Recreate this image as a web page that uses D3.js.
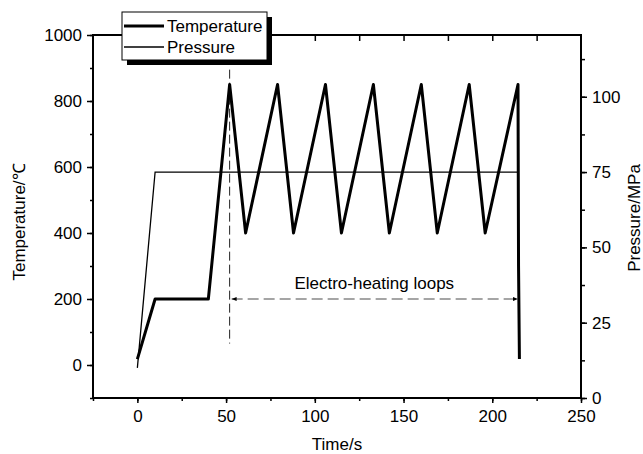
<!DOCTYPE html>
<html>
<head>
<meta charset="utf-8">
<script src="https://cdn.jsdelivr.net/npm/d3@7"></script>
<style>
body{margin:0;background:#fff;}
#canvas{width:643px;height:454px;}
text{font-family:Arial,'Liberation Sans',sans-serif;fill:#000;}
.axis path,.axis line{stroke:#000;}
</style>
</head>
<body>
<div id="canvas" class="canvas"></div>
<script>
//Data
var tempTime = [0,10,40,52,61,79,88,106,115,133,142,160,169,187,196,214.5,214.8,215.3];
var tempValues = [18,200,200,850,400,850,400,850,400,850,400,850,400,850,400,850,300,18];
var pressTime = [0,10,215];
var pressValues = [10,75,75];
var xTicks = [0,50,100,150,200,250];
var tempTicks = [0,200,400,600,800,1000];
var pressTicks = [0,25,50,75,100];
var seriesNames = ['Temperature','Pressure'];
var loopStart = 52, loopEnd = 214.5, loopLevel = 200;
var loopLabel = 'Electro-heating loops';

var m = {t:35,r:62,b:56,l:93},
    w = 643 - m.l - m.r,
    h = 454 - m.t - m.b;

var svg = d3.select('.canvas')
    .append('svg')
    .attr('width', w + m.l + m.r)
    .attr('height', h + m.t + m.b);

var plot = svg.append('g').attr('class','plot')
    .attr('transform','translate('+ m.l+','+ m.t+')');

var x = d3.scaleLinear().domain([-25,250]).range([0,w]);
var yT = d3.scaleLinear().domain([-100,1000]).range([h,0]);
var yP = d3.scaleLinear().domain([0,120.5]).range([h,0]);

var fs = '17px';
var fmt = d3.format('d');

//minor ticks first, then major with labels
function minor(axis, g){
    g.call(axis).selectAll('text').remove();
    g.select('.domain').remove();
    g.selectAll('line').attr('stroke-width',1.5);
}

//bottom
plot.append('g').attr('class','axis')
    .attr('transform','translate(0,'+h+')')
    .call(minor.bind(null, d3.axisBottom(x).tickValues(d3.range(-25,251,25)).tickSize(3)));
var gx = plot.append('g').attr('class','axis')
    .attr('transform','translate(0,'+h+')')
    .call(d3.axisBottom(x).tickValues(xTicks).tickFormat(fmt).tickSize(5).tickPadding(7).tickSizeOuter(0));
gx.selectAll('text').style('font-size',fs);
gx.selectAll('line').attr('stroke-width',1.5);

//top, ticks inward, no labels
plot.append('g').attr('class','axis')
    .call(minor.bind(null, d3.axisTop(x).tickValues(d3.range(0,226,25)).tickSize(-6)));

//left
plot.append('g').attr('class','axis')
    .call(minor.bind(null, d3.axisLeft(yT).tickValues(d3.range(-100,1001,100)).tickSize(3)));
var gyl = plot.append('g').attr('class','axis')
    .call(d3.axisLeft(yT).tickValues(tempTicks).tickFormat(fmt).tickSize(6).tickPadding(5).tickSizeOuter(0));
gyl.selectAll('text').style('font-size',fs);
gyl.selectAll('line').attr('stroke-width',1.5);

//right
plot.append('g').attr('class','axis')
    .attr('transform','translate('+w+',0)')
    .call(minor.bind(null, d3.axisRight(yP).tickValues(d3.range(0,120,12.5)).tickSize(4)));
var gyr = plot.append('g').attr('class','axis')
    .attr('transform','translate('+w+',0)')
    .call(d3.axisRight(yP).tickValues(pressTicks).tickFormat(fmt).tickSize(6).tickPadding(5).tickSizeOuter(0));
gyr.selectAll('text').style('font-size',fs);
gyr.selectAll('line').attr('stroke-width',1.5);

//frame
plot.append('rect')
    .attr('width',w).attr('height',h)
    .style('fill','none').style('stroke','#000').style('stroke-width',2);

//marker line and loop arrow
svg.append('defs').selectAll('marker')
    .data(['arrEnd','arrStart']).enter()
    .append('marker')
    .attr('id',function(d){return d})
    .attr('viewBox','0 0 10 10')
    .attr('refX',function(d){return d=='arrEnd'?10:0})
    .attr('refY',5)
    .attr('markerWidth',9).attr('markerHeight',5)
    .attr('markerUnits','userSpaceOnUse')
    .attr('orient','auto')
    .append('path')
    .attr('d',function(d){return d=='arrEnd'?'M0,1L10,5L0,9Z':'M10,1L0,5L10,9Z'})
    .style('fill','#000');

plot.append('line')
    .attr('x1',x(loopStart)).attr('x2',x(loopStart))
    .attr('y1',yT(895)).attr('y2',yT(65))
    .style('stroke','#222').style('stroke-width',1)
    .style('stroke-dasharray','9,4');

plot.append('line')
    .attr('x1',x(loopStart)+2).attr('x2',x(loopEnd))
    .attr('y1',yT(loopLevel)).attr('y2',yT(loopLevel))
    .style('stroke','#888').style('stroke-width',1.5)
    .style('stroke-dasharray','11,5')
    .attr('marker-start','url(#arrStart)')
    .attr('marker-end','url(#arrEnd)');

plot.append('text')
    .attr('x',x(133.5)).attr('y',yT(loopLevel)-10)
    .attr('text-anchor','middle')
    .style('font-size',fs)
    .text(loopLabel);

//series
var lineT = d3.line()
    .x(function(d){return x(d[0])})
    .y(function(d){return yT(d[1])});
var lineP = d3.line()
    .x(function(d){return x(d[0])})
    .y(function(d){return yP(d[1])});

plot.append('path')
    .datum(d3.zip(pressTime,pressValues))
    .attr('d',lineP)
    .style('fill','none').style('stroke','#000').style('stroke-width',1.3);

plot.append('path')
    .datum(d3.zip(tempTime,tempValues))
    .attr('d',lineT)
    .style('fill','none').style('stroke','#000').style('stroke-width',3)
    .style('stroke-linejoin','round');

//axis titles
svg.append('text')
    .attr('transform','translate(25,'+(m.t+187)+') rotate(-90)')
    .attr('text-anchor','middle')
    .style('font-size',fs)
    .text('Temperature/\u2103');
svg.append('text')
    .attr('transform','translate(640,'+(m.t+183)+') rotate(-90)')
    .attr('text-anchor','middle')
    .style('font-size',fs)
    .text('Pressure/MPa');
svg.append('text')
    .attr('x',m.l+w/2).attr('y',450)
    .attr('text-anchor','middle')
    .style('font-size',fs)
    .text('Time/s');

//legend with drop shadow
var lg = svg.append('g').attr('transform','translate(122,12)');
lg.append('rect').attr('x',5).attr('y',5).attr('width',145).attr('height',48).style('fill','#000');
lg.append('rect').attr('width',145).attr('height',48)
    .style('fill','#fff').style('stroke','#000').style('stroke-width',1);
var items = lg.selectAll('.item')
    .data(seriesNames).enter()
    .append('g').attr('class','item')
    .attr('transform',function(d,i){return 'translate(0,'+(14+i*21)+')'});
items.append('line')
    .attr('x1',2).attr('x2',42)
    .style('stroke','#000')
    .style('stroke-width',function(d,i){return i==0?3:1.3});
items.append('text')
    .attr('x',45).attr('y',6)
    .style('font-size','17px')
    .text(function(d){return d});
</script>
</body>
</html>
